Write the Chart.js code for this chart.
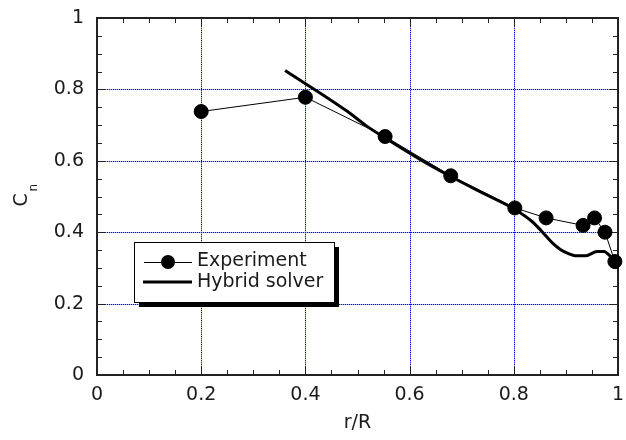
<!DOCTYPE html>
<html lang="en">
<head>
    <meta charset="UTF-8">
    <title>Cn vs r/R</title>
    <script src="https://cdn.jsdelivr.net/npm/chart.js"></script>
    <style>
        body { margin: 0; background: #fff; }
        canvas { display: block; }
    </style>
</head>
<body>
    <canvas id="cnChart" width="626" height="440"></canvas>
    <script>
        // Experiment (points + thin line)
        const expR  = [0.200, 0.400, 0.553, 0.679, 0.802, 0.862, 0.933, 0.955, 0.975, 0.994];
        const expCn = [0.738, 0.778, 0.668, 0.558, 0.468, 0.440, 0.419, 0.440, 0.400, 0.318];

        // Hybrid solver (thick line)
        const hybR  = [0.361, 0.481, 0.515, 0.554, 0.620, 0.679, 0.740, 0.803, 0.835, 0.854, 0.874, 0.890, 0.905, 0.918, 0.938, 0.960, 0.973, 0.986, 0.998];
        const hybCn = [0.853, 0.738, 0.700, 0.663, 0.604, 0.556, 0.510, 0.463, 0.430, 0.402, 0.370, 0.351, 0.340, 0.334, 0.334, 0.346, 0.346, 0.332, 0.314];

        const tickLabels = ['0', '0.2', '0.4', '0.6', '0.8', '1'];
        const minorStep = 0.05;

        const FONT = 'DejaVu Sans';
        const TEXT = '#1a1a1a';

        const toPoints = (xs, ys) => xs.map((v, i) => ({ x: v, y: ys[i] }));

        // keep tick labels from pushing the plot area around
        const noOverflow = s => {
            s.paddingLeft = 0; s.paddingRight = 0;
            s.paddingTop = 0; s.paddingBottom = 0;
        };

        const framePlugin = {
            id: 'frame',
            beforeDatasetsDraw(chart) {
                const { ctx, chartArea: a, scales: { x, y } } = chart;
                ctx.save();

                // blue dotted grid on the major ticks (light line under blue dots)
                const inner = t => t.value > 0.01 && t.value < 0.99;
                const gridPass = (color, dash) => {
                    ctx.strokeStyle = color;
                    ctx.lineWidth = 1;
                    ctx.setLineDash(dash);
                    ctx.beginPath();
                    x.ticks.filter(inner).forEach(t => {
                        const px = Math.round(x.getPixelForValue(t.value)) + 0.5;
                        ctx.moveTo(px, a.top); ctx.lineTo(px, a.bottom);
                    });
                    y.ticks.filter(inner).forEach(t => {
                        const py = Math.round(y.getPixelForValue(t.value)) + 0.5;
                        ctx.moveTo(a.left, py); ctx.lineTo(a.right, py);
                    });
                    ctx.stroke();
                };
                gridPass('#b3b3ff', []);
                gridPass('#0000ff', [1, 1]);
                ctx.setLineDash([]);

                // frame with inward ticks on all four sides
                ctx.strokeStyle = '#222';
                ctx.lineWidth = 1;
                ctx.beginPath();
                for (let i = 0; i <= 20; i++) {
                    const v = i * minorStep;
                    const len = i % 4 === 0 ? 9 : 5;
                    const px = Math.round(x.getPixelForValue(v)) + 0.5;
                    const py = Math.round(y.getPixelForValue(v)) + 0.5;
                    ctx.moveTo(px, a.bottom); ctx.lineTo(px, a.bottom - len);
                    ctx.moveTo(px, a.top); ctx.lineTo(px, a.top + len);
                    ctx.moveTo(a.left, py); ctx.lineTo(a.left + len, py);
                    ctx.moveTo(a.right, py); ctx.lineTo(a.right - len, py);
                }
                ctx.stroke();
                ctx.lineWidth = 2;
                ctx.strokeRect(a.left, a.top, a.right - a.left, a.bottom - a.top);

                // y axis title: C with subscript n, rotated
                const cy = (a.top + a.bottom) / 2 + 10;
                ctx.translate(27, cy);
                ctx.rotate(-Math.PI / 2);
                ctx.fillStyle = TEXT;
                ctx.textBaseline = 'alphabetic';
                ctx.textAlign = 'left';
                ctx.font = '19px "' + FONT + '"';
                ctx.fillText('C', 0, 0);
                ctx.font = '12px "' + FONT + '"';
                ctx.fillText('n', 15, 10);
                ctx.restore();
            },
            afterDatasetsDraw(chart) {
                const ctx = chart.ctx;
                const ds = chart.data.datasets;
                const bx = 134, by = 242, bw = 200, bh = 60;
                ctx.save();
                // shadow + box
                ctx.fillStyle = '#000';
                ctx.fillRect(bx + 5, by + 5, bw, bh);
                ctx.fillStyle = '#fff';
                ctx.fillRect(bx, by, bw, bh);
                ctx.strokeStyle = '#000';
                ctx.lineWidth = 1;
                ctx.strokeRect(bx + 0.5, by + 0.5, bw, bh);

                // Experiment sample
                ctx.beginPath();
                ctx.moveTo(144, 262.5); ctx.lineTo(192, 262.5);
                ctx.stroke();
                ctx.fillStyle = '#000';
                ctx.beginPath();
                ctx.arc(168, 262, 7, 0, Math.PI * 2);
                ctx.fill();
                // Hybrid sample
                ctx.lineWidth = 3;
                ctx.beginPath();
                ctx.moveTo(143, 282); ctx.lineTo(192, 282);
                ctx.stroke();

                ctx.fillStyle = TEXT;
                ctx.font = '19px "' + FONT + '"';
                ctx.textBaseline = 'alphabetic';
                ctx.textAlign = 'left';
                ctx.fillText(ds[0].label, 197, 266);
                ctx.fillText(ds[1].label, 197, 287);
                ctx.restore();
            }
        };

        const ctx = document.getElementById('cnChart').getContext('2d');
        const cnChart = new Chart(ctx, {
            type: 'line',
            data: {
                datasets: [{
                    label: 'Experiment',
                    data: toPoints(expR, expCn),
                    borderColor: '#000',
                    borderWidth: 1,
                    backgroundColor: '#000',
                    pointRadius: 7,
                    pointBorderWidth: 1,
                    pointBackgroundColor: '#000',
                    pointBorderColor: '#000',
                    tension: 0,
                    clip: false
                }, {
                    label: 'Hybrid solver',
                    data: toPoints(hybR, hybCn),
                    borderColor: '#000',
                    borderWidth: 3,
                    pointRadius: 0,
                    cubicInterpolationMode: 'monotone',
                    clip: false
                }]
            },
            options: {
                responsive: false,
                animation: false,
                devicePixelRatio: 1,
                layout: { padding: { top: 18, right: 6, left: 0, bottom: 0 } },
                plugins: {
                    legend: { display: false },
                    tooltip: { enabled: false }
                },
                scales: {
                    x: {
                        type: 'linear',
                        min: 0, max: 1,
                        afterFit: s => { s.height = 65; noOverflow(s); },
                        ticks: {
                            stepSize: 0.2,
                            autoSkip: false,
                            maxRotation: 0,
                            padding: 9,
                            color: TEXT,
                            font: { family: FONT, size: 19 },
                            callback: (v, i) => tickLabels[i]
                        },
                        grid: { display: false, drawTicks: false },
                        border: { display: false },
                        title: {
                            display: true,
                            text: 'r/R',
                            color: TEXT,
                            font: { family: FONT, size: 19 },
                            padding: { top: 0, bottom: 6 }
                        }
                    },
                    y: {
                        type: 'linear',
                        min: 0, max: 1,
                        afterFit: s => { s.width = 97; noOverflow(s); },
                        ticks: {
                            stepSize: 0.2,
                            autoSkip: false,
                            padding: 13,
                            color: TEXT,
                            font: { family: FONT, size: 19 },
                            callback: (v, i) => tickLabels[i]
                        },
                        grid: { display: false, drawTicks: false },
                        border: { display: false }
                    }
                }
            },
            plugins: [framePlugin]
        });
    </script>
</body>
</html>
